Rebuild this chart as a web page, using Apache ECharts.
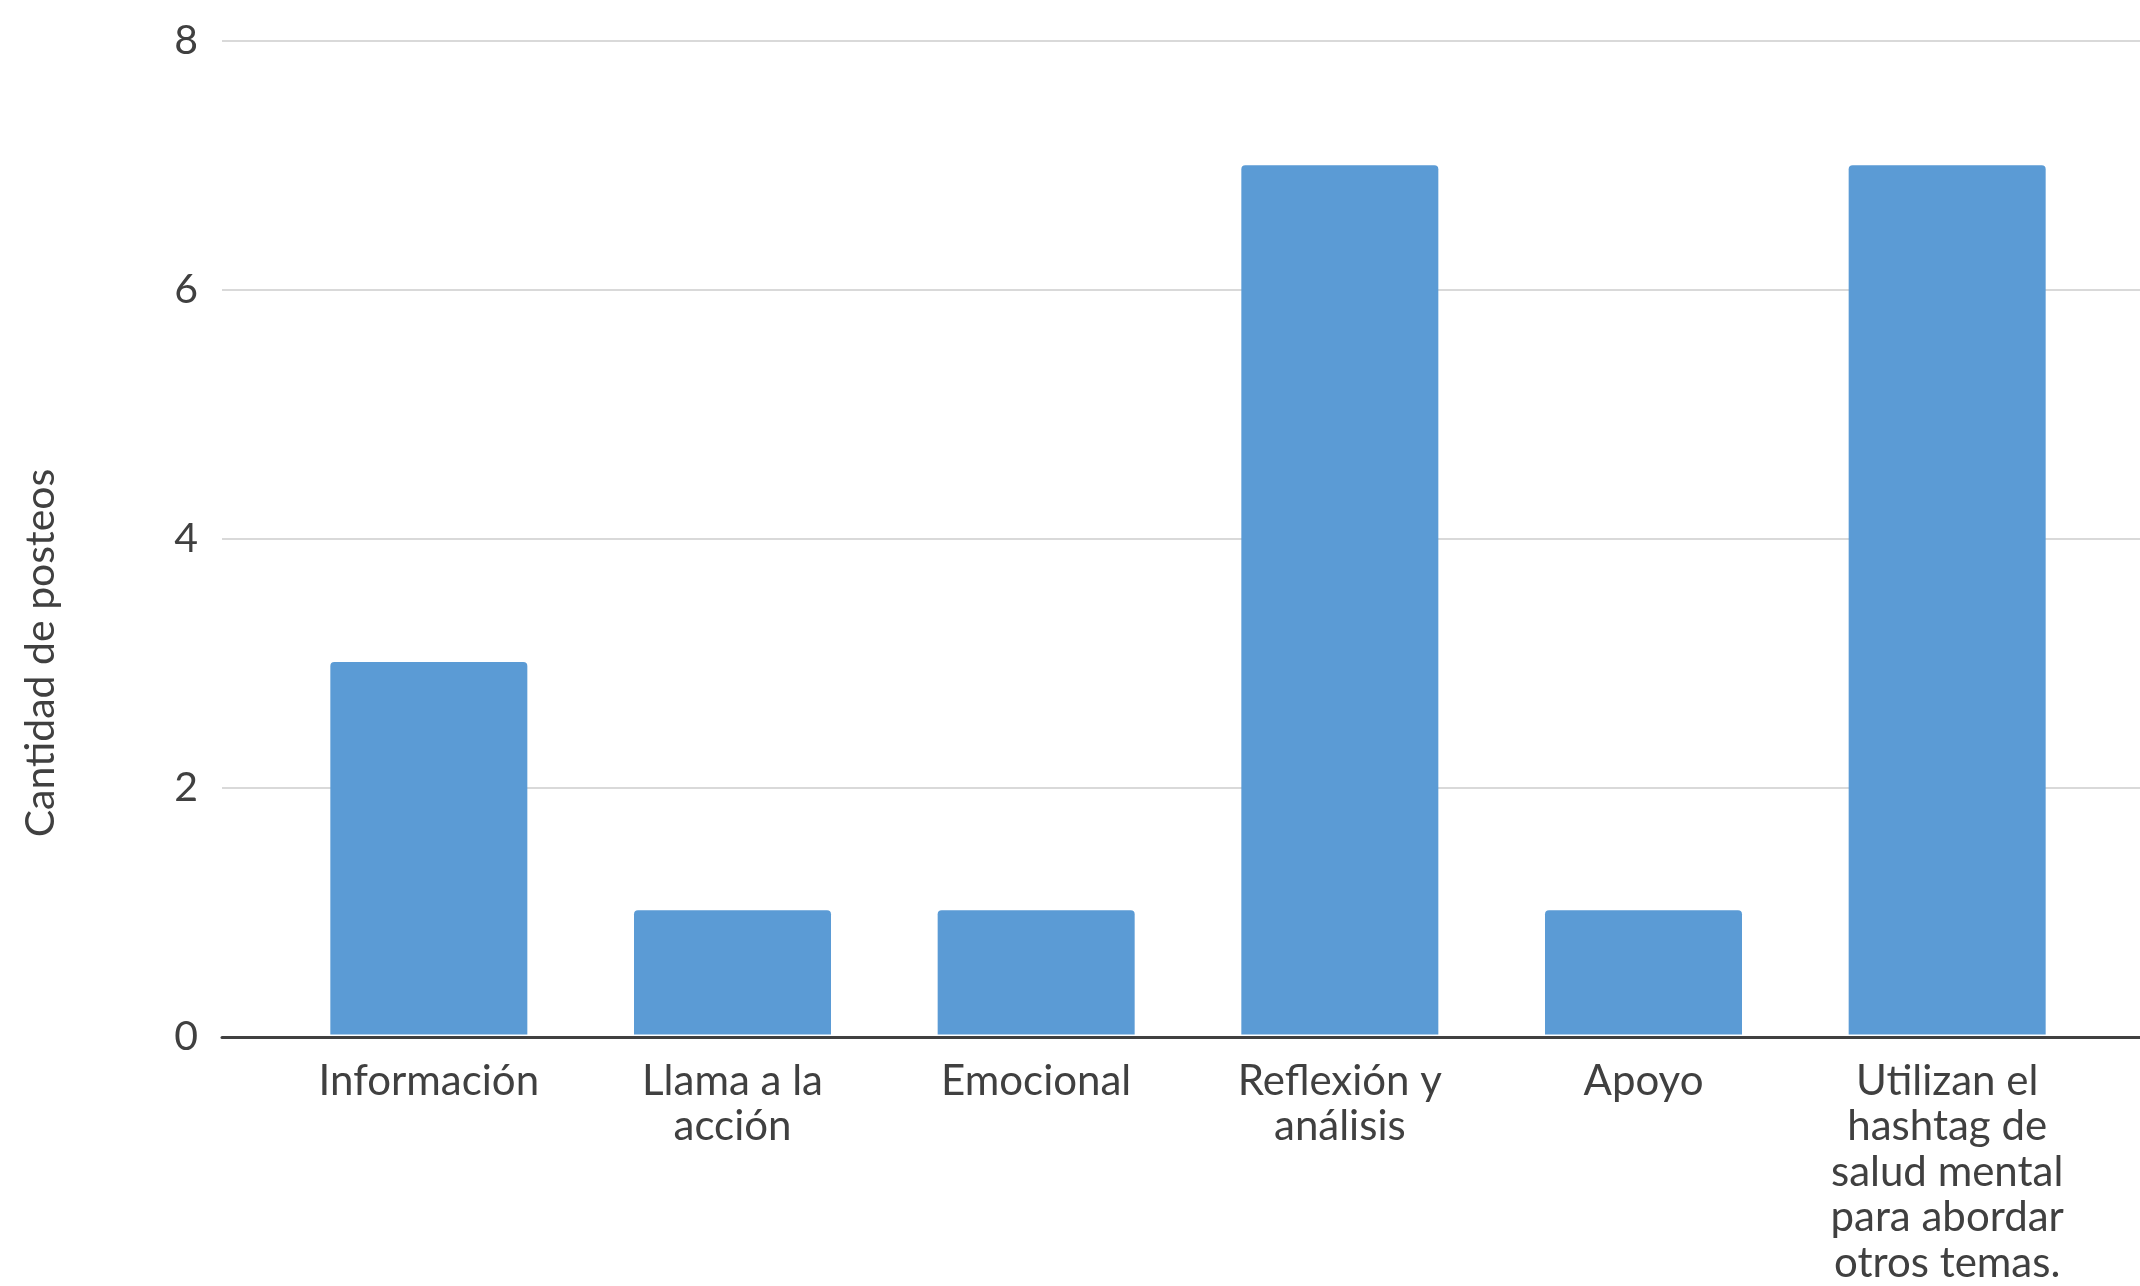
<!DOCTYPE html>
<html>
<head>
<meta charset="utf-8">
<script src="https://cdn.jsdelivr.net/npm/echarts@6/dist/echarts.min.js"></script>
<style>
html,body{margin:0;padding:0;background:#fff;}
#chart{width:2140px;height:1286px;}
</style>
</head>
<body>
<div id="chart"></div>
<script>
const categories = ["Información", "Llama a la acción", "Emocional", "Reflexión y análisis", "Apoyo", "Utilizan el hashtag de salud mental para abordar otros temas."];
const tickLabels = ["Información", "Llama a la\nacción", "Emocional", "Reflexión y\nanálisis", "Apoyo", "Utilizan el\nhashtag de\nsalud mental\npara abordar\notros temas."];
const posts = [3, 1, 1, 7, 1, 7];
const yTicks = [0, 2, 4, 6, 8];
const yTitle = "Cantidad de posteos";

const FONT = "Lato";
const TXT = "#404040";
const chart = echarts.init(document.getElementById('chart'), null, {renderer: 'canvas'});
chart.setOption({
  backgroundColor: '#ffffff',
  animation: false,
  grid: [
    {left: 222, right: 0, top: 41, bottom: 249},
    {left: 277, right: 41, top: 41, bottom: 249}
  ],
  xAxis: [
    {type: 'category', gridIndex: 0, data: [''], axisTick: {show: false}, axisLabel: {show: false},
     axisLine: {show: true, lineStyle: {color: '#404040', width: 3}}},
    {type: 'category', gridIndex: 1, data: categories, axisTick: {show: false}, axisLine: {show: false},
     axisLabel: {interval: 0, margin: 24, color: TXT, fontFamily: FONT, fontSize: 42, lineHeight: 45.5,
       formatter: (v, i) => tickLabels[i]}}
  ],
  yAxis: [
    {type: 'value', gridIndex: 0, min: yTicks[0], max: yTicks[yTicks.length - 1], interval: 2,
     axisLine: {show: false}, axisTick: {show: false},
     axisLabel: {margin: 24, color: TXT, fontFamily: FONT, fontSize: 41},
     splitLine: {lineStyle: {color: '#d9d9d9', width: 2}}},
    {type: 'value', gridIndex: 1, min: yTicks[0], max: yTicks[yTicks.length - 1], interval: 2, show: false,
     splitLine: {show: false}}
  ],
  graphic: [
    {type: 'text', x: 41, y: 653, rotation: Math.PI / 2,
     style: {text: yTitle, fill: TXT, font: '41px ' + FONT, align: 'center', verticalAlign: 'middle'}}
  ],
  series: [
    {type: 'bar', xAxisIndex: 1, yAxisIndex: 1, data: posts, barWidth: 197,
     itemStyle: {color: '#5b9bd5', borderRadius: [4, 4, 0, 0]}, z: 1}
  ]
});
</script>
</body>
</html>
